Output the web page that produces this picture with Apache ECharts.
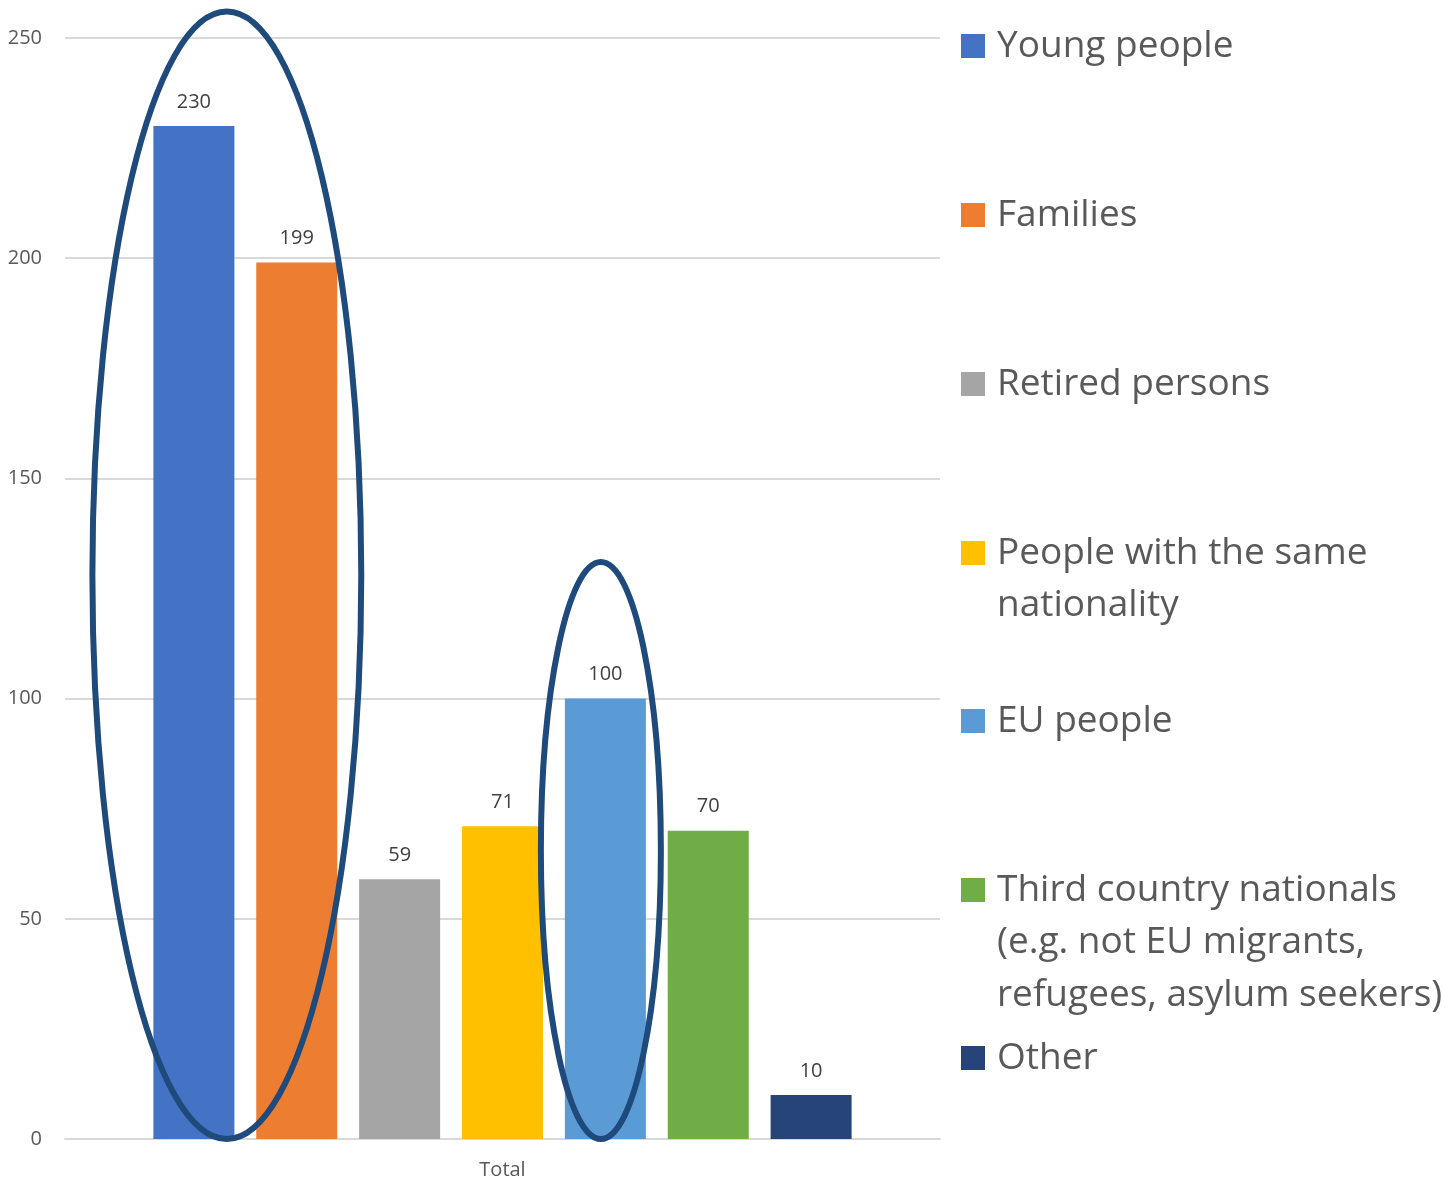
<!DOCTYPE html>
<html><head><meta charset="utf-8">
<script src="https://cdn.jsdelivr.net/npm/echarts@6/dist/echarts.min.js"></script>
<style>html,body{margin:0;padding:0;background:#fff}#c{width:1445px;height:1182px}</style>
</head><body><div id="c"></div>
<script>
const categories = ['Total'];
const seriesNames = ['Young people','Families','Retired persons','People with the same\nnationality','EU people','Third country nationals\n(e.g. not EU migrants,\nrefugees, asylum seekers)','Other'];
const seriesValues = [230, 199, 59, 71, 100, 70, 10];
const seriesColors = ['#4472C4','#ED7D31','#A5A5A5','#FFC000','#5B9BD5','#70AD47','#264478'];
const yTicks = {min: 0, max: 250, interval: 50};
const legendCenters = [46, 215, 384, 553, 721, 890, 1058];

const FONT = '"Open Sans", sans-serif';
const LH = 52.5;
const chart = echarts.init(document.getElementById('c'));

const series = seriesNames.map((n, i) => ({
  name: n, type: 'bar', data: [seriesValues[i]],
  barWidth: 81, barGap: '27%',
  itemStyle: {color: seriesColors[i]},
  label: {show: true, position: 'top', distance: 14, color: '#404040', fontSize: 20, fontFamily: FONT}
}));

const legends = seriesNames.map((n, i) => {
  const lines = n.split('\n').length;
  const h = lines * LH;
  const sqTop = LH/2 - 12, sqBot = LH/2 + 12;
  return {
    data: [n], orient: 'vertical', left: 961, top: legendCenters[i] - LH/2,
    padding: 0, itemWidth: 31, itemHeight: h, itemGap: 0, selectedMode: false,
    symbolKeepAspect: false,
    icon: 'path://M0,' + sqTop + 'H24V' + sqBot + 'H0Z M31,0 M0,' + h,
    textStyle: {fontSize: 37, color: '#595959', fontFamily: FONT, lineHeight: LH}
  };
});

chart.setOption({
  animation: false,
  grid: {left: 65, right: 505, top: 38, bottom: 43, containLabel: false},
  legend: legends,
  xAxis: {type: 'category', data: categories,
    axisLine: {lineStyle: {color: '#D9D9D9', width: 2}}, axisTick: {show: false},
    axisLabel: {color: '#595959', fontSize: 20, fontFamily: FONT, margin: 21}},
  yAxis: {type: 'value', min: yTicks.min, max: yTicks.max, interval: yTicks.interval,
    axisLine: {show: false}, axisTick: {show: false},
    splitLine: {lineStyle: {color: '#D9D9D9', width: 2}},
    axisLabel: {color: '#595959', fontSize: 20, fontFamily: FONT, margin: 23}},
  series: series
});

function lay(i){ return chart.getModel().getSeriesByIndex(i).getData().getItemLayout(0); }
const y0 = chart.convertToPixel({yAxisIndex: 0}, 0);
const b0 = lay(0), b1 = lay(1), b4 = lay(4);
const e1L = b0.x - 61, e1R = b1.x + b1.width + 24, e1T = chart.convertToPixel({yAxisIndex: 0}, 256);
const e2L = b4.x - 24, e2R = b4.x + b4.width + 15, e2T = chart.convertToPixel({yAxisIndex: 0}, 131);
chart.setOption({graphic: [
  {type: 'ellipse', shape: {cx: (e1L+e1R)/2, cy: (e1T+y0)/2, rx: (e1R-e1L)/2, ry: (y0-e1T)/2},
   style: {fill: 'none', stroke: '#1F4A7C', lineWidth: 6}, z: 100},
  {type: 'ellipse', shape: {cx: (e2L+e2R)/2, cy: (e2T+y0)/2, rx: (e2R-e2L)/2, ry: (y0-e2T)/2},
   style: {fill: 'none', stroke: '#1F4A7C', lineWidth: 6}, z: 100}
]});
</script></body></html>
